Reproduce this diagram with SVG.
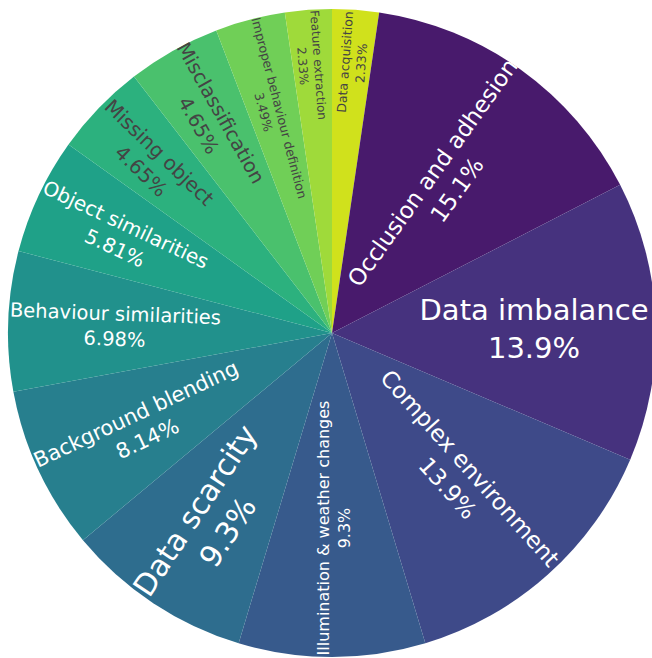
<svg xmlns="http://www.w3.org/2000/svg" width="652" height="658" viewBox="0 0 652 658">
<style>
text{font-family:"DejaVu Sans",Verdana,sans-serif;text-anchor:middle}
.w{fill:#ffffff}
.d{fill:#444444}
</style>
<rect width="652" height="658" fill="#ffffff"/>
<g id="slice-data-acquisition">
<path d="M332,333 L332,9 A324,324 0 0 1 379.17,12.45 Z" fill="#d0e11c"/>
<text class="d" font-size="12.5" transform="translate(353,62.5) rotate(-85.81)"><tspan x="0" y="-3.6">Data acquisition</tspan><tspan x="0" dy="16.25">2.33%</tspan></text>
</g>
<g id="slice-occlusion">
<path d="M332,333 L379.17,12.45 A324,324 0 0 1 620.14,184.84 Z" fill="#481a6c"/>
<text class="w" font-size="23" transform="translate(444.5,181) rotate(-54.42)"><tspan x="0" y="-6.6">Occlusion and adhesion</tspan><tspan x="0" dy="29.9">15.1%</tspan></text>
</g>
<g id="slice-data-imbalance">
<path d="M332,333 L620.14,184.84 A324,324 0 0 1 630.19,459.72 Z" fill="#46327e"/>
<text class="w" font-size="29" transform="translate(534,328.5)"><tspan x="0" y="-8.3">Data imbalance</tspan><tspan x="0" dy="37.7">13.9%</tspan></text>
</g>
<g id="slice-complex-environment">
<path d="M332,333 L630.19,459.72 A324,324 0 0 1 425.34,643.26 Z" fill="#3e4a89"/>
<text class="w" font-size="23" transform="translate(459,478) rotate(48.14)"><tspan x="0" y="-6.6">Complex environment</tspan><tspan x="0" dy="29.9">13.9%</tspan></text>
</g>
<g id="slice-illumination">
<path d="M332,333 L425.34,643.26 A324,324 0 0 1 238.66,643.26 Z" fill="#375a8c"/>
<text class="w" font-size="16" transform="translate(334,528) rotate(-90)"><tspan x="0" y="-4.6">Illumination &amp; weather changes</tspan><tspan x="0" dy="20.8">9.3%</tspan></text>
</g>
<g id="slice-data-scarcity">
<path d="M332,333 L238.66,643.26 A324,324 0 0 1 82.96,540.25 Z" fill="#2e6d8e"/>
<text class="w" font-size="30" transform="translate(211,521) rotate(-56.51)"><tspan x="0" y="-8.6">Data scarcity</tspan><tspan x="0" dy="39">9.3%</tspan></text>
</g>
<g id="slice-background-blending">
<path d="M332,333 L82.96,540.25 A324,324 0 0 1 13.39,391.85 Z" fill="#277f8e"/>
<text class="w" font-size="21" transform="translate(141.5,426) rotate(-25.12)"><tspan x="0" y="-6">Background blending</tspan><tspan x="0" dy="27.3">8.14%</tspan></text>
</g>
<g id="slice-behaviour-similarities">
<path d="M332,333 L13.39,391.85 A324,324 0 0 1 18.53,251.05 Z" fill="#21918c"/>
<text class="w" font-size="19.5" transform="translate(115,326) rotate(2.09)"><tspan x="0" y="-5.6">Behaviour similarities</tspan><tspan x="0" dy="25.35">6.98%</tspan></text>
</g>
<g id="slice-object-similarities">
<path d="M332,333 L18.53,251.05 A324,324 0 0 1 68.49,144.48 Z" fill="#1fa188"/>
<text class="w" font-size="20" transform="translate(120.5,236) rotate(25.12)"><tspan x="0" y="-5.7">Object similarities</tspan><tspan x="0" dy="26">5.81%</tspan></text>
</g>
<g id="slice-missing-object">
<path d="M332,333 L68.49,144.48 A324,324 0 0 1 133.98,76.55 Z" fill="#2cb17e"/>
<text class="d" font-size="20" transform="translate(150.5,161.5) rotate(43.95)"><tspan x="0" y="-5.7">Missing object</tspan><tspan x="0" dy="26">4.65%</tspan></text>
</g>
<g id="slice-misclassification">
<path d="M332,333 L133.98,76.55 A324,324 0 0 1 216.26,30.38 Z" fill="#4ac16d"/>
<text class="d" font-size="19.5" transform="translate(210,119) rotate(60.7)"><tspan x="0" y="-5.6">Misclassification</tspan><tspan x="0" dy="25.35">4.65%</tspan></text>
</g>
<g id="slice-improper-behaviour">
<path d="M332,333 L216.26,30.38 A324,324 0 0 1 284.83,12.45 Z" fill="#70cf57"/>
<text class="d" font-size="12.5" transform="translate(271.4,110) rotate(75.35)"><tspan x="0" y="-3.6">Improper behaviour definition</tspan><tspan x="0" dy="16.25">3.49%</tspan></text>
</g>
<g id="slice-feature-extraction">
<path d="M332,333 L284.83,12.45 A324,324 0 0 1 332,9 Z" fill="#9fda3a"/>
<text class="d" font-size="12" transform="translate(310.8,65.5) rotate(85.81)"><tspan x="0" y="-3.4">Feature extraction</tspan><tspan x="0" dy="15.6">2.33%</tspan></text>
</g>
<g id="connectors"></g>
</svg>
